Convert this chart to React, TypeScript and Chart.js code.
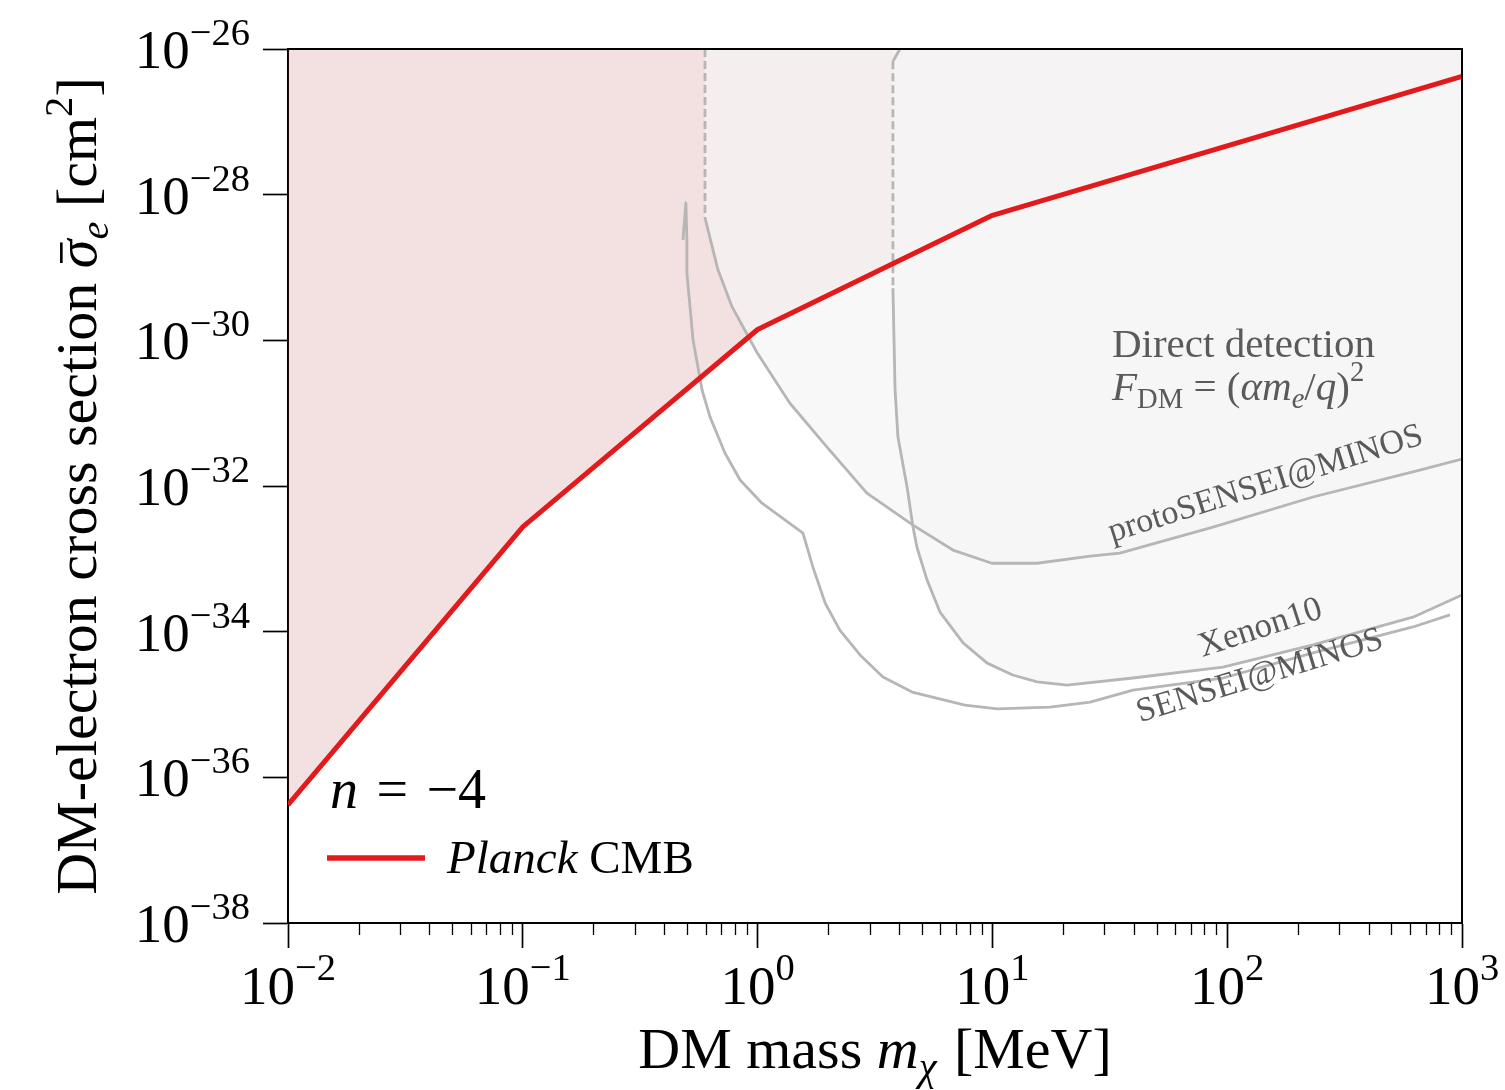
import React, { useEffect, useRef } from 'react';
import { Chart, registerables } from 'chart.js';

Chart.register(...registerables);

// ---------- data ----------
const massTicks = [0.01, 0.1, 1, 10, 100, 1000];
const sigmaTicks = [1e-38, 1e-36, 1e-34, 1e-32, 1e-30, 1e-28, 1e-26];

const planckMass = [0.01, 0.1, 1, 10, 1000];
const planckSigma = [4.2e-37, 2.75e-33, 1.41e-30, 5.2e-29, 4.2e-27];

const protoMass = [0.597, 0.597, 0.678, 0.778, 0.994, 1.37, 1.98, 2.92, 4.59, 6.79, 9.95, 15.5, 26.1, 34.9, 87, 232, 618, 1000];
const protoSigma = [1e-26, 4.8e-29, 9.3e-30, 2.9e-30, 6.8e-31, 1.38e-31, 3.4e-32, 8.0e-33, 2.9e-33, 1.32e-33, 8.7e-34, 8.7e-34, 1.09e-33, 1.2e-33, 2.73e-33, 7.06e-33, 1.56e-32, 2.34e-32];

const xenonMass = [4.04, 3.77, 3.77, 3.85, 3.96, 4.33, 4.59, 4.78, 5.27, 5.98, 7.5, 9.5, 12.2, 15.5, 20.8, 39.7, 96, 232, 618, 1000];
const xenonSigma = [1e-26, 6.8e-27, 5.2e-30, 2.1e-31, 4.7e-32, 9.7e-33, 2.73e-33, 1.41e-33, 5.1e-34, 1.86e-34, 7.0e-35, 3.7e-35, 2.54e-35, 2.04e-35, 1.85e-35, 2.31e-35, 3.27e-35, 6.6e-35, 1.58e-34, 3.18e-34];

const senseiMass = [0.481, 0.495, 0.5, 0.5, 0.531, 0.58, 0.627, 0.726, 0.842, 1.044, 1.56, 1.72, 1.94, 2.24, 2.73, 3.42, 4.55, 7.64, 10.5, 17.6, 26.1, 39.7, 96, 232, 618, 889];
const senseiSigma = [2.4e-29, 7.7e-29, 2.4e-29, 8.4e-30, 1.01e-30, 2.08e-31, 8.9e-32, 2.84e-32, 1.21e-32, 5.8e-33, 2.26e-33, 7.7e-34, 2.47e-34, 1.05e-34, 4.8e-35, 2.38e-35, 1.48e-35, 9.8e-36, 8.7e-36, 9.2e-36, 1.08e-35, 1.58e-35, 2.31e-35, 5.1e-35, 1.16e-34, 1.7e-34];

// label anchors (data coordinates)
const directLabelPos = [32.3, 5.9e-31];
const formulaLabelPos = [32.3, 1.52e-31];
const protoLabelPos = [32.3, 1.7e-33];
const xenonLabelPos = [78.2, 4.5e-35];
const senseiLabelPos = [42.5, 5.7e-36];

// ---------- styling ----------
const SERIF = '"Liberation Serif", "Times New Roman", serif';
const RED = '#e31a1c';
const GREY_LINE = '#b6b6b6';
const GREY_FILL = 'rgba(245,245,245,0.7)';
const PINK_FILL = 'rgba(180,60,65,0.155)';
const LABEL_GREY = '#5a5a5a';
const DASH = [8, 4];

type Run = { t: string; s?: number; it?: boolean; dy?: number; gap?: number; bar?: boolean };

const fontOf = (size: number, it?: boolean) => `${it ? 'italic ' : ''}${size}px ${SERIF}`;

function runsWidth(ctx: CanvasRenderingContext2D, runs: Run[], size: number) {
  let w = 0;
  for (const r of runs) {
    ctx.font = fontOf(size * (r.s ?? 1), r.it);
    w += ctx.measureText(r.t).width + (r.gap ?? 0) * size;
  }
  return w;
}

function drawRuns(
  ctx: CanvasRenderingContext2D,
  runs: Run[],
  x: number,
  y: number,
  size: number,
  align: 'left' | 'center' | 'right',
  color: string
) {
  const w = runsWidth(ctx, runs, size);
  let cx = align === 'left' ? x : align === 'center' ? x - w / 2 : x - w;
  ctx.fillStyle = color;
  ctx.textBaseline = 'alphabetic';
  ctx.textAlign = 'left';
  for (const r of runs) {
    const fs = size * (r.s ?? 1);
    ctx.font = fontOf(fs, r.it);
    const rw = ctx.measureText(r.t).width;
    const by = y + (r.dy ?? 0) * size;
    ctx.fillText(r.t, cx, by);
    if (r.bar) {
      ctx.fillRect(cx + rw * 0.18, by - fs * 0.62, rw * 0.72, Math.max(1.6, fs * 0.045));
    }
    cx += rw + (r.gap ?? 0) * size;
  }
}

const xy = (xs: number[], ys: number[]) => xs.map((x, i) => ({ x, y: ys[i] }));

const expOf = (v: number) => Math.round(Math.log10(v));
const expText = (e: number) => (e < 0 ? '\u2212' + Math.abs(e) : String(e));

const decorPlugin = {
  id: 'decor',
  afterDraw(chart: any) {
    const ctx: CanvasRenderingContext2D = chart.ctx;
    const { left, right, top, bottom } = chart.chartArea;
    const xs = chart.scales.x;
    const ys = chart.scales.y;
    ctx.save();

    // frame top/right
    ctx.strokeStyle = '#000';
    ctx.lineWidth = 2;
    ctx.beginPath();
    ctx.moveTo(left, top);
    ctx.lineTo(right, top);
    ctx.lineTo(right, bottom);
    ctx.stroke();

    // minor x ticks
    ctx.lineWidth = 1.3;
    ctx.beginPath();
    for (let i = 0; i < massTicks.length - 1; i++) {
      for (let k = 2; k <= 9; k++) {
        const px = Math.round(xs.getPixelForValue(massTicks[i] * k)) + 0.5;
        ctx.moveTo(px, bottom);
        ctx.lineTo(px, bottom + 12);
      }
    }
    ctx.stroke();

    // tick labels
    const TS = 55;
    for (const v of massTicks) {
      const px = xs.getPixelForValue(v);
      drawRuns(ctx, [{ t: '10' }, { t: expText(expOf(v)), s: 0.7, dy: -0.44 }], px, bottom + 81, TS, 'center', '#000');
    }
    for (const v of sigmaTicks) {
      const py = ys.getPixelForValue(v);
      drawRuns(ctx, [{ t: '10' }, { t: expText(expOf(v)), s: 0.7, dy: -0.42 }], left - 38, py + 19, TS, 'right', '#000');
    }

    // axis titles
    drawRuns(
      ctx,
      [{ t: 'DM mass ' }, { t: 'm', it: true }, { t: '\u03c7', it: true, s: 0.7, dy: 0.2, gap: 0.05 }, { t: ' [MeV]' }],
      (left + right) / 2,
      1068,
      58,
      'center',
      '#000'
    );
    ctx.save();
    ctx.translate(96, (top + bottom) / 2);
    ctx.rotate(-Math.PI / 2);
    drawRuns(
      ctx,
      [
        { t: 'DM-electron cross section ' },
        { t: '\u03c3', it: true, bar: true },
        { t: 'e', it: true, s: 0.7, dy: 0.2 },
        { t: ' [cm' },
        { t: '2', s: 0.7, dy: -0.42 },
        { t: ']' },
      ],
      0,
      0,
      58,
      'center',
      '#000'
    );
    ctx.restore();

    // direct detection annotation
    const p = (pos: number[]) => [xs.getPixelForValue(pos[0]), ys.getPixelForValue(pos[1])];
    const [dx, dy] = p(directLabelPos);
    drawRuns(ctx, [{ t: 'Direct detection' }], dx, dy, 41, 'left', LABEL_GREY);
    const [fx, fy] = p(formulaLabelPos);
    drawRuns(
      ctx,
      [
        { t: 'F', it: true },
        { t: 'DM', s: 0.7, dy: 0.2, gap: 0.25 },
        { t: '=', gap: 0.25 },
        { t: '(' },
        { t: '\u03b1m', it: true },
        { t: 'e', it: true, s: 0.7, dy: 0.2 },
        { t: '/' },
        { t: 'q', it: true },
        { t: ')' },
        { t: '2', s: 0.7, dy: -0.45 },
      ],
      fx,
      fy,
      41,
      'left',
      LABEL_GREY
    );

    const rotLabel = (pos: number[], text: string, deg: number, size: number) => {
      const [lx, ly] = p(pos);
      ctx.save();
      ctx.translate(lx, ly);
      ctx.rotate((-deg * Math.PI) / 180);
      drawRuns(ctx, [{ t: text }], 0, 0, size, 'left', LABEL_GREY);
      ctx.restore();
    };
    rotLabel(protoLabelPos, 'protoSENSEI@MINOS', 17.5, 34);
    rotLabel(xenonLabelPos, 'Xenon10', 18, 35);
    rotLabel(senseiLabelPos, 'SENSEI@MINOS', 17, 34);

    // n = -4 and legend
    drawRuns(
      ctx,
      [{ t: 'n', it: true, gap: 0.33 }, { t: '=', gap: 0.33 }, { t: '\u22124' }],
      left + 42,
      bottom - 115,
      56,
      'left',
      '#000'
    );
    ctx.strokeStyle = RED;
    ctx.lineWidth = 5.5;
    ctx.beginPath();
    ctx.moveTo(left + 39, bottom - 65);
    ctx.lineTo(left + 137, bottom - 65);
    ctx.stroke();
    drawRuns(ctx, [{ t: 'Planck', it: true }, { t: ' CMB' }], left + 159, bottom - 50, 47, 'left', '#000');

    ctx.restore();
  },
};

export default function App() {
  const ref = useRef<HTMLCanvasElement | null>(null);

  useEffect(() => {
    if (!ref.current) return;
    const greyLine = (label: string, data: any[], dashed: boolean) => ({
      label,
      data,
      borderColor: GREY_LINE,
      borderWidth: 2.8,
      borderDash: dashed ? DASH : [],
      fill: false,
    });
    const region = (label: string, data: any[], color: string) => ({
      label,
      data,
      borderColor: 'rgba(0,0,0,0)',
      borderWidth: 0,
      backgroundColor: color,
      fill: 'end',
    });
    const chart = new Chart(ref.current, {
      type: 'line',
      data: {
        datasets: [
          {
            label: 'Planck CMB',
            data: xy(planckMass, planckSigma),
            borderColor: RED,
            borderWidth: 5,
            fill: false,
          },
          greyLine('protoSENSEI@MINOS (projected)', xy(protoMass.slice(0, 2), protoSigma.slice(0, 2)), true),
          greyLine('protoSENSEI@MINOS', xy(protoMass.slice(1), protoSigma.slice(1)), false),
          greyLine('Xenon10 edge', xy(xenonMass.slice(0, 2), xenonSigma.slice(0, 2)), false),
          greyLine('Xenon10 (projected)', xy(xenonMass.slice(1, 3), xenonSigma.slice(1, 3)), true),
          greyLine('Xenon10', xy(xenonMass.slice(2), xenonSigma.slice(2)), false),
          greyLine('SENSEI@MINOS', xy(senseiMass, senseiSigma), false),
          region('protoSENSEI region', xy(protoMass, protoSigma), GREY_FILL),
          region('Xenon10 region', xy(xenonMass.slice(1), xenonSigma.slice(1)), GREY_FILL),
          region('CMB region', xy(planckMass, planckSigma), PINK_FILL),
        ],
      },
      options: {
        responsive: false,
        devicePixelRatio: 1,
        animation: false,
        events: [],
        layout: { padding: { top: 49, right: 43, left: 0, bottom: 0 } },
        elements: {
          point: { radius: 0 },
          line: { tension: 0, borderJoinStyle: 'round', borderCapStyle: 'butt' },
        },
        plugins: {
          legend: { display: false },
          tooltip: { enabled: false },
          filler: { drawTime: 'beforeDatasetsDraw' },
        },
        scales: {
          x: {
            type: 'logarithmic',
            position: 'bottom',
            min: 0.01,
            max: 1000,
            afterBuildTicks: (s: any) => {
              s.ticks = massTicks.map((v) => ({ value: v, major: true }));
            },
            afterFit: (s: any) => {
              s.height = 167;
            },
            ticks: { display: false },
            grid: {
              drawOnChartArea: false,
              drawTicks: true,
              tickLength: 25,
              tickWidth: 1.7,
              tickColor: '#000',
              color: '#000',
            },
            border: { display: true, color: '#000', width: 2 },
          },
          y: {
            type: 'logarithmic',
            position: 'left',
            min: 1e-38,
            max: 1e-26,
            afterBuildTicks: (s: any) => {
              s.ticks = sigmaTicks.map((v) => ({ value: v, major: true }));
            },
            afterFit: (s: any) => {
              s.width = 288;
            },
            ticks: { display: false },
            grid: {
              drawOnChartArea: false,
              drawTicks: true,
              tickLength: 25,
              tickWidth: 1.7,
              tickColor: '#000',
              color: '#000',
            },
            border: { display: true, color: '#000', width: 2 },
          },
        },
      } as any,
      plugins: [decorPlugin],
    });
    return () => chart.destroy();
  }, []);

  return (
    <div style={{ position: 'absolute', left: 0, top: 0, width: 1505, height: 1090, background: '#fff' }}>
      <canvas ref={ref} width={1505} height={1090} style={{ display: 'block' }} />
    </div>
  );
}
